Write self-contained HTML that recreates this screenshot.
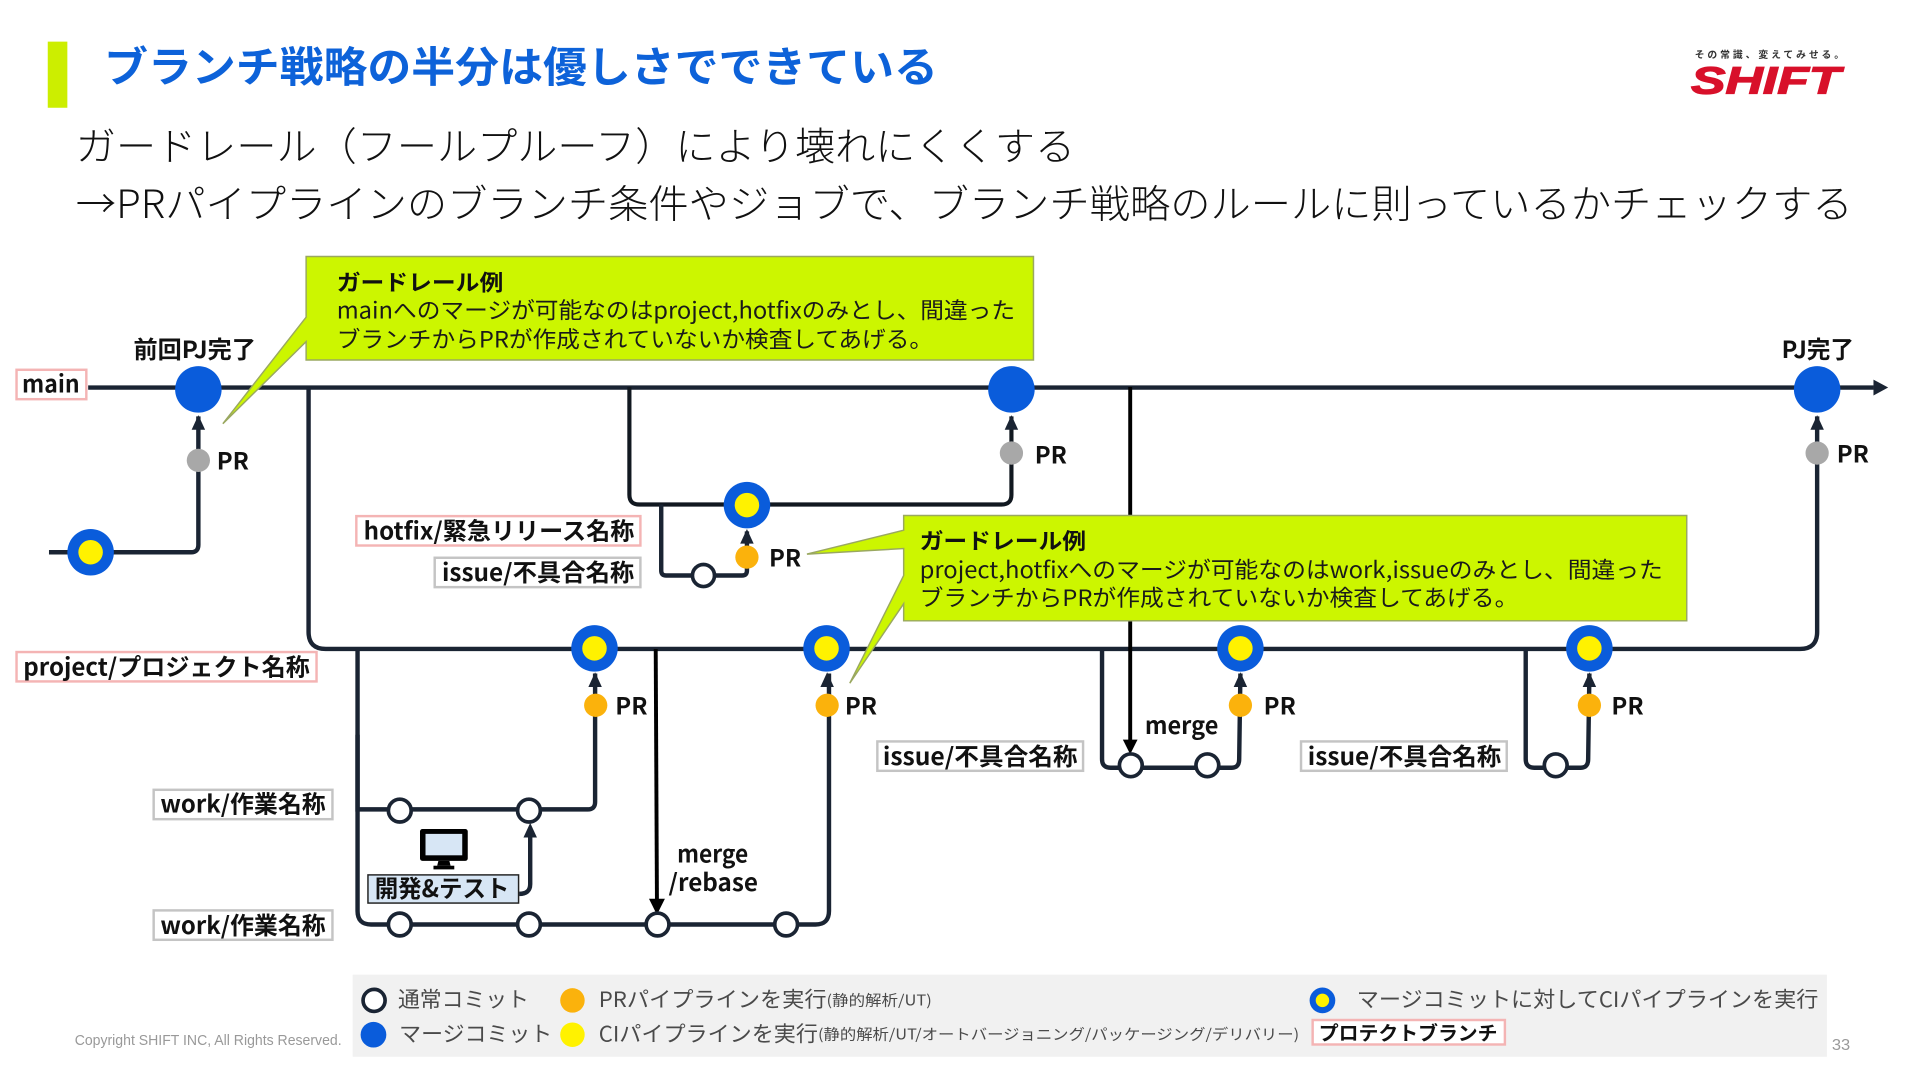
<!DOCTYPE html>
<html lang="ja"><head><meta charset="utf-8"><title>ブランチ戦略</title>
<style>
html,body{margin:0;padding:0;background:#fff;width:1920px;height:1080px;overflow:hidden}
svg{display:block}
text{font-family:"Liberation Sans","Noto Sans CJK JP",sans-serif;dominant-baseline:central;fill:#111}
.b{font-weight:700}
.c{font-family:"Noto Sans CJK JP","Liberation Sans",sans-serif}
.l{font-family:"Noto Sans CJK JP","Liberation Sans",sans-serif;font-weight:700;font-size:19.5px;transform:translateY(-1px)}
.t{font-family:"Noto Sans CJK JP","Liberation Sans",sans-serif;font-size:18.5px;fill:#1a1a1a;transform:translateY(-0.8px)}
.g{font-family:"Noto Sans CJK JP","Liberation Sans",sans-serif;font-size:17.5px;fill:#4a4a4a;transform:translateY(-0.5px)}
.w{fill:none;stroke:#1a2433;stroke-width:3.6}
.k{fill:none;stroke:#000;stroke-width:3.2}
.pink{fill:#fff;stroke:#f4b4b4;stroke-width:2}
.gray{fill:#fff;stroke:#c4c4c4;stroke-width:2}
.n{fill:#fff;stroke:#1a2433;stroke-width:3}
.ah{fill:#1a2433}
</style></head><body>
<svg width="1920" height="1080" viewBox="0 0 1568 882" xmlns="http://www.w3.org/2000/svg">
<rect x="39" y="34" width="16" height="54" fill="#ccee00"/>
<text class="c b" x="85" y="52.5" font-size="34.5" style="fill:#0d62d9" textLength="681" lengthAdjust="spacingAndGlyphs">ブランチ戦略の半分は優しさでできている</text>
<text class="c" x="62" y="118" font-size="32" style="fill:#111;font-weight:300" textLength="816" lengthAdjust="spacingAndGlyphs">ガードレール（フールプルーフ）により壊れにくくする</text>
<text class="c" x="62" y="165" font-size="32" style="fill:#111;font-weight:300" textLength="1451" lengthAdjust="spacingAndGlyphs">→PRパイプラインのブランチ条件やジョブで、ブランチ戦略のルールに則っているかチェックする</text>

<!-- logo -->
<text class="c b" x="1384" y="44" font-size="8" style="fill:#333" textLength="122" lengthAdjust="spacing">その常識、変えてみせる。</text>
<text x="1381" y="66.5" font-size="31" font-weight="700" font-style="italic" style="fill:#d8102a;stroke:#d8102a;stroke-width:1" textLength="122" lengthAdjust="spacingAndGlyphs">SHIFT</text>

<!-- connectors -->
<path class="w" d="M72 316.5H1530"/>
<polygon class="ah" points="1530,310 1542,316.5 1530,323"/>
<path class="w" d="M252 316V516Q252 530 266 530H1470Q1484 530 1484 516V340"/>
<path class="k" style="stroke:#111820;stroke-width:3.4" d="M514 316V404Q514 412 522 412H818Q826 412 826 404V340"/>
<path class="w" d="M40 451H156Q162 451 162 445V340"/>
<path class="w" d="M540 412V466Q540 470 544 470H606Q610 470 610 466V434"/>
<path class="w" d="M292 530V661H480Q486 661 486 655V550"/>
<path class="w" d="M292 600V744Q292 755 303 755H666Q677 755 677 744V550"/>
<path class="w" d="M900 530V620Q900 627 907 627H1006Q1012 627 1012 620L1013 550"/>
<path class="w" d="M1246 530V620Q1246 627 1253 627H1291Q1297 627 1297 620L1298 550"/>
<path class="w" d="M424 730Q433 730 433 722V682"/>
<path class="k" d="M923 316V606"/>
<polygon fill="#000" points="917,604 929,604 923,616"/>
<path class="k" d="M535.500 530L536.500 736"/>
<polygon fill="#000" points="530,734 543,734 536.500,747"/>

<!-- arrowheads up -->
<polygon class="ah" points="162,339 156.500,351 167.500,351"/>
<polygon class="ah" points="826,339 820.500,351 831.500,351"/>
<polygon class="ah" points="1484,339 1478.500,351 1489.500,351"/>
<polygon class="ah" points="610,432 604.500,444 615.500,444"/>
<polygon class="ah" points="486,549 480.500,561 491.500,561"/>
<polygon class="ah" points="675.500,549 670,561 681,561"/>
<polygon class="ah" points="1013,549 1007.500,561 1018.500,561"/>
<polygon class="ah" points="1298,549 1292.500,561 1303.500,561"/>
<polygon class="ah" points="433,672 427.500,684 438.500,684"/>

<!-- blue merge nodes -->
<g fill="#0a5cdb">
<circle cx="162" cy="318" r="19"/><circle cx="826" cy="318" r="19"/><circle cx="1484" cy="318" r="19"/>
<circle cx="74" cy="451" r="19"/><circle cx="610" cy="412.500" r="19"/>
<circle cx="485.500" cy="529.500" r="19"/><circle cx="675" cy="529.500" r="19"/><circle cx="1013" cy="529.500" r="19"/><circle cx="1298" cy="529.500" r="19"/>
</g>
<g fill="#fff200">
<circle cx="74" cy="451" r="10"/><circle cx="610" cy="412.500" r="10"/>
<circle cx="485.500" cy="529.500" r="10"/><circle cx="675" cy="529.500" r="10"/><circle cx="1013" cy="529.500" r="10"/><circle cx="1298" cy="529.500" r="10"/>
</g>
<!-- PR dots -->
<g fill="#a8a8a8"><circle cx="162" cy="376" r="9.500"/><circle cx="826" cy="370" r="9.500"/><circle cx="1484" cy="370" r="9.500"/></g>
<g fill="#fbb20c"><circle cx="610" cy="455" r="9.500"/><circle cx="486.500" cy="576" r="9.500"/><circle cx="675.500" cy="576" r="9.500"/><circle cx="1013" cy="576" r="9.500"/><circle cx="1298" cy="576" r="9.500"/></g>
<!-- commit nodes -->
<circle class="n" cx="574.500" cy="470" r="9"/>
<circle class="n" cx="326.500" cy="662" r="9.300"/><circle class="n" cx="432" cy="662" r="9.300"/>
<circle class="n" cx="326.500" cy="755" r="9.300"/><circle class="n" cx="432" cy="755" r="9.300"/><circle class="n" cx="537" cy="755" r="9.300"/><circle class="n" cx="642" cy="755" r="9.300"/>
<circle class="n" cx="923.500" cy="625" r="9.300"/><circle class="n" cx="986" cy="625" r="9.300"/><circle class="n" cx="1270.500" cy="625" r="9.300"/>

<!-- callouts -->
<path d="M250 209.500H844V294H250V279L182 346L250 259Z" fill="#ccf600" stroke="#9aa860" stroke-width="1.200"/>
<text class="c b" x="275" y="230" font-size="18" textLength="136" lengthAdjust="spacingAndGlyphs">ガードレール例</text>
<text class="t" x="275" y="253" textLength="554" lengthAdjust="spacingAndGlyphs">mainへのマージが可能なのはproject,hotfixのみとし、間違った</text>
<text class="t" x="275" y="277" textLength="487" lengthAdjust="spacingAndGlyphs">ブランチからPRが作成されていないか検査してあげる。</text>

<path d="M738 421H1377.500V507H738V493L694 558L738 470V448L659 452.500L738 433Z" fill="#ccf600" stroke="#9aa860" stroke-width="1.200"/>
<text class="c b" x="751" y="441" font-size="18" textLength="136" lengthAdjust="spacingAndGlyphs">ガードレール例</text>
<text class="t" x="751" y="465" textLength="607" lengthAdjust="spacingAndGlyphs">project,hotfixへのマージが可能なのはwork,issueのみとし、間違った</text>
<text class="t" x="751" y="488" textLength="489" lengthAdjust="spacingAndGlyphs">ブランチからPRが作成されていないか検査してあげる。</text>

<!-- labels -->
<rect class="pink" x="13.500" y="302" width="57" height="24"/>
<text class="l" x="18" y="313" textLength="47" lengthAdjust="spacingAndGlyphs">main</text>
<rect class="pink" x="291" y="421.500" width="232" height="24"/>
<text class="l" x="297" y="433" textLength="221" lengthAdjust="spacingAndGlyphs">hotfix/緊急リリース名称</text>
<rect class="gray" x="355" y="455.500" width="168" height="24"/>
<text class="l" x="361" y="467" textLength="157" lengthAdjust="spacingAndGlyphs">issue/不具合名称</text>
<rect class="pink" x="13.500" y="532.500" width="245" height="24"/>
<text class="l" x="19" y="544" textLength="234" lengthAdjust="spacingAndGlyphs">project/プロジェクト名称</text>
<rect class="gray" x="125.500" y="645" width="146" height="24"/>
<text class="l" x="131" y="656" textLength="135" lengthAdjust="spacingAndGlyphs">work/作業名称</text>
<rect class="gray" x="125.500" y="743.500" width="146" height="24"/>
<text class="l" x="131" y="755" textLength="135" lengthAdjust="spacingAndGlyphs">work/作業名称</text>
<rect class="gray" x="716.500" y="605.500" width="168" height="24"/>
<text class="l" x="721" y="617" textLength="159" lengthAdjust="spacingAndGlyphs">issue/不具合名称</text>
<rect class="gray" x="1062.500" y="605.500" width="168" height="24"/>
<text class="l" x="1068" y="617" textLength="158" lengthAdjust="spacingAndGlyphs">issue/不具合名称</text>

<text class="l" x="109" y="285" textLength="100" lengthAdjust="spacingAndGlyphs">前回PJ完了</text>
<text class="l" x="1455" y="285" textLength="59" lengthAdjust="spacingAndGlyphs">PJ完了</text>
<g>
<text class="l" x="177" y="376">PR</text>
<text class="l" x="845" y="371">PR</text>
<text class="l" x="1500" y="370">PR</text>
<text class="l" x="628" y="455">PR</text>
<text class="l" x="502.500" y="576">PR</text>
<text class="l" x="690" y="576">PR</text>
<text class="l" x="1032" y="576">PR</text>
<text class="l" x="1316" y="576">PR</text>
</g>
<text class="l" x="935" y="592" textLength="60" lengthAdjust="spacingAndGlyphs">merge</text>
<text class="l" x="553" y="697" textLength="58" lengthAdjust="spacingAndGlyphs">merge</text>
<text class="l" x="546" y="720" textLength="73" lengthAdjust="spacingAndGlyphs">/rebase</text>

<!-- monitor -->
<rect x="343" y="677" width="39" height="26" rx="2" fill="#000"/>
<rect x="347.500" y="681" width="30" height="17.500" fill="#d7e6f5"/>
<polygon points="358,703 367,703 368,707 357,707" fill="#000"/>
<rect x="354" y="707" width="17" height="3" fill="#000"/>
<rect x="300.500" y="714.500" width="123" height="23" fill="#d7e6f5" stroke="#222" stroke-width="1.200"/>
<text class="l" x="306" y="725" textLength="110" lengthAdjust="spacingAndGlyphs">開発&amp;テスト</text>

<!-- legend -->
<rect x="288" y="796" width="1204" height="67" fill="#f1f1f1"/>
<circle cx="305.500" cy="817" r="9" fill="#fff" stroke="#1a2433" stroke-width="3"/>
<text class="g" x="325" y="816" textLength="107" lengthAdjust="spacingAndGlyphs">通常コミット</text>
<circle cx="467.500" cy="817" r="10" fill="#fbb20c"/>
<text class="g" x="489" y="816" textLength="186" lengthAdjust="spacingAndGlyphs">PRパイプラインを実行</text>
<text class="g" x="675" y="817" style="font-size:12px" textLength="86" lengthAdjust="spacingAndGlyphs">(静的解析/UT)</text>
<circle cx="305" cy="845" r="10.500" fill="#0a5cdb"/>
<text class="g" x="326" y="844" textLength="125" lengthAdjust="spacingAndGlyphs">マージコミット</text>
<circle cx="467.500" cy="845" r="10" fill="#fff200"/>
<text class="g" x="489" y="844" textLength="179" lengthAdjust="spacingAndGlyphs">CIパイプラインを実行</text>
<text class="g" x="668" y="845" style="font-size:12px" textLength="393" lengthAdjust="spacingAndGlyphs">(静的解析/UT/オートバージョニング/パッケージング/デリバリー)</text>
<circle cx="1080" cy="817" r="10.500" fill="#0a5cdb"/><circle cx="1080" cy="817" r="5.500" fill="#fff200"/>
<text class="g" x="1108" y="816" textLength="377" lengthAdjust="spacingAndGlyphs">マージコミットに対してCIパイプラインを実行</text>
<rect class="pink" x="1072" y="833" width="157" height="20"/>
<text class="c b" x="1077" y="842.500" font-size="16" textLength="146" lengthAdjust="spacingAndGlyphs">プロテクトブランチ</text>

<text x="61" y="850" font-size="12" style="fill:#999" textLength="218" lengthAdjust="spacingAndGlyphs">Copyright SHIFT INC, All Rights Reserved.</text>
<text x="1496" y="854" font-size="13" style="fill:#999" textLength="15" lengthAdjust="spacingAndGlyphs">33</text>
</svg>
</body></html>
